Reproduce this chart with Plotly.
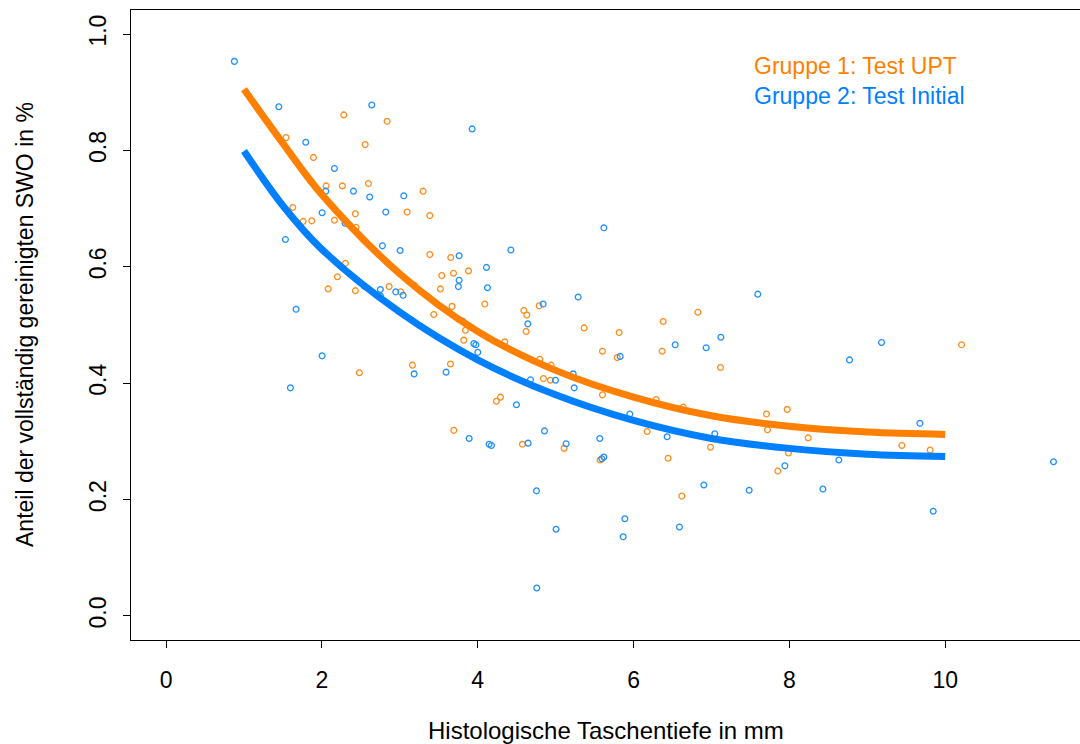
import plotly.graph_objects as go

# --- Data ---
# Gruppe 1: Test UPT (orange points)
g1_x = [2.281, 2.837, 1.540, 2.555, 1.891, 2.054, 2.263, 2.597, 3.299, 1.626,
        3.094, 3.385, 2.430, 1.759, 1.870, 2.161, 2.439, 3.385, 3.654, 2.302,
        2.199, 3.539, 3.689, 2.080, 2.430, 2.546, 2.863, 3.012, 3.188, 3.521,
        3.671, 3.436, 3.162, 3.650, 2.481, 3.693, 3.881, 4.091, 4.592, 4.630,
        4.788, 6.826, 6.380, 3.842, 3.821, 4.348, 4.621, 5.366, 5.815, 5.601,
        5.790, 6.367, 4.797, 4.942, 4.843, 4.933, 5.601, 6.290, 6.637, 4.240,
        4.292, 4.574, 5.109, 5.571, 6.175, 6.444, 6.620, 7.116, 10.21, 7.706,
        7.972, 7.719, 8.241, 6.988, 7.989, 7.852, 9.444, 9.807]
g1_y = [0.861, 0.850, 0.822, 0.810, 0.788, 0.739, 0.739, 0.743, 0.730, 0.702,
        0.694, 0.688, 0.691, 0.678, 0.679, 0.680, 0.668, 0.621, 0.616, 0.606,
        0.583, 0.585, 0.589, 0.562, 0.559, 0.566, 0.566, 0.557, 0.568, 0.562,
        0.532, 0.518, 0.431, 0.433, 0.418, 0.319, 0.593, 0.536, 0.525, 0.517,
        0.533, 0.522, 0.506, 0.491, 0.474, 0.471, 0.489, 0.495, 0.487, 0.455,
        0.444, 0.455, 0.441, 0.431, 0.408, 0.405, 0.380, 0.372, 0.359, 0.369,
        0.376, 0.295, 0.288, 0.268, 0.317, 0.271, 0.206, 0.427, 0.466, 0.347,
        0.355, 0.320, 0.306, 0.290, 0.280, 0.249, 0.293, 0.285]

# Gruppe 2: Test Initial (blue points)
g2_x = [0.877, 1.447, 2.640, 1.793, 2.161, 1.861, 2.050, 2.405, 2.614, 3.051,
        2.003, 2.820, 2.298, 1.532, 2.777, 3.004, 3.761, 3.761, 2.751, 2.751,
        2.948, 3.042, 3.752, 1.669, 2.003, 3.184, 3.594, 1.596, 3.928, 5.619,
        4.425, 4.112, 4.125, 4.840, 5.289, 3.804, 3.950, 3.976, 4.001, 4.643,
        5.828, 6.534, 5.225, 4.677, 4.998, 5.238, 4.497, 5.952, 3.890, 4.146,
        4.176, 4.857, 4.647, 5.135, 5.567, 5.593, 5.619, 6.431, 4.754, 5.888,
        5.006, 5.867, 6.589, 4.758, 7.595, 7.120, 6.932, 9.183, 8.772, 7.043,
        7.942, 8.635, 9.675, 6.902, 7.484, 8.430, 9.846, 11.39]
g2_y = [0.953, 0.875, 0.878, 0.814, 0.769, 0.747, 0.730, 0.730, 0.720, 0.722,
        0.693, 0.694, 0.675, 0.647, 0.636, 0.628, 0.619, 0.577, 0.561, 0.550,
        0.557, 0.551, 0.566, 0.527, 0.447, 0.416, 0.419, 0.392, 0.837, 0.667,
        0.629, 0.599, 0.564, 0.536, 0.548, 0.507, 0.468, 0.466, 0.453, 0.502,
        0.446, 0.466, 0.416, 0.406, 0.405, 0.392, 0.363, 0.347, 0.305, 0.295,
        0.293, 0.318, 0.297, 0.296, 0.305, 0.270, 0.273, 0.308, 0.215, 0.167,
        0.149, 0.136, 0.153, 0.048, 0.553, 0.479, 0.461, 0.470, 0.440, 0.313,
        0.258, 0.268, 0.331, 0.225, 0.216, 0.218, 0.180, 0.265]

# Fitted curves
curve_x = [1, 1.5, 2, 3, 4, 5, 6, 7, 8, 9, 10]
curve_g1 = [0.905, 0.812, 0.724, 0.588, 0.489, 0.422, 0.376, 0.344, 0.326, 0.316, 0.312]
curve_g2 = [0.799, 0.705, 0.630, 0.522, 0.440, 0.380, 0.336, 0.305, 0.288, 0.278, 0.274]

x_ticks = [0, 2, 4, 6, 8, 10]
y_ticks = [0.0, 0.2, 0.4, 0.6, 0.8, 1.0]

legend_labels = ["Gruppe 1: Test UPT", "Gruppe 2: Test Initial"]
x_title = "Histologische Taschentiefe in mm"
y_title = "Anteil der vollständig gereinigten SWO in %"

ORANGE_PT = "#FF8C1A"
BLUE_PT = "#1E8FFF"
ORANGE_LN = "#FF8000"
BLUE_LN = "#0080FF"
FONT = "Liberation Sans, Arial, sans-serif"
FS = 23

fig = go.Figure()
fig.add_trace(go.Scatter(x=g1_x, y=g1_y, mode="markers",
                         marker=dict(symbol="circle-open", size=5.8,
                                     color=ORANGE_PT, line=dict(width=1.3, color=ORANGE_PT)),
                         showlegend=False, hoverinfo="skip"))
fig.add_trace(go.Scatter(x=g2_x, y=g2_y, mode="markers",
                         marker=dict(symbol="circle-open", size=5.8,
                                     color=BLUE_PT, line=dict(width=1.3, color=BLUE_PT)),
                         showlegend=False, hoverinfo="skip"))
fig.add_trace(go.Scatter(x=curve_x, y=curve_g1, mode="lines",
                         line=dict(color=ORANGE_LN, width=7, shape="spline", smoothing=1.0),
                         showlegend=False, hoverinfo="skip"))
fig.add_trace(go.Scatter(x=curve_x, y=curve_g2, mode="lines",
                         line=dict(color=BLUE_LN, width=7, shape="spline", smoothing=1.0),
                         showlegend=False, hoverinfo="skip"))

axis_common = dict(showgrid=False, zeroline=False, showline=True, linecolor="black",
                   linewidth=1, mirror=True, ticks="outside", ticklen=7,
                   tickcolor="black", tickwidth=1,
                   tickfont=dict(family=FONT, size=FS, color="black"))

fig.update_xaxes(range=[-0.45, 11.73], tickvals=x_ticks, ticktext=[str(v) for v in x_ticks],
                 ticklabelstandoff=12, **axis_common)
fig.update_yaxes(range=[-0.0413, 1.0413], tickvals=y_ticks,
                 ticktext=["%.1f" % v for v in y_ticks], tickangle=-90,
                 ticklabelstandoff=8, **axis_common)

annotations = [
    dict(x=7.52, y=0.945, xref="x", yref="y", text=legend_labels[0], showarrow=False,
         xanchor="left", yanchor="middle", font=dict(family=FONT, size=FS, color=ORANGE_LN)),
    dict(x=7.52, y=0.893, xref="x", yref="y", text=legend_labels[1], showarrow=False,
         xanchor="left", yanchor="middle", font=dict(family=FONT, size=FS, color=BLUE_LN)),
    dict(x=0.5, y=0, xref="paper", yref="paper", text=x_title, showarrow=False,
         xanchor="center", yanchor="middle", yshift=-90,
         font=dict(family=FONT, size=24, color="black")),
    dict(x=0, y=0.5, xref="paper", yref="paper", text=y_title, showarrow=False,
         xanchor="center", yanchor="middle", xshift=-106, textangle=-90,
         font=dict(family=FONT, size=FS, color="black")),
]

fig.update_layout(width=1080, height=744, plot_bgcolor="white", paper_bgcolor="white",
                  margin=dict(l=131, r=0, t=10, b=104), annotations=annotations,
                  font=dict(family=FONT))

fig.write_html("out.html")
